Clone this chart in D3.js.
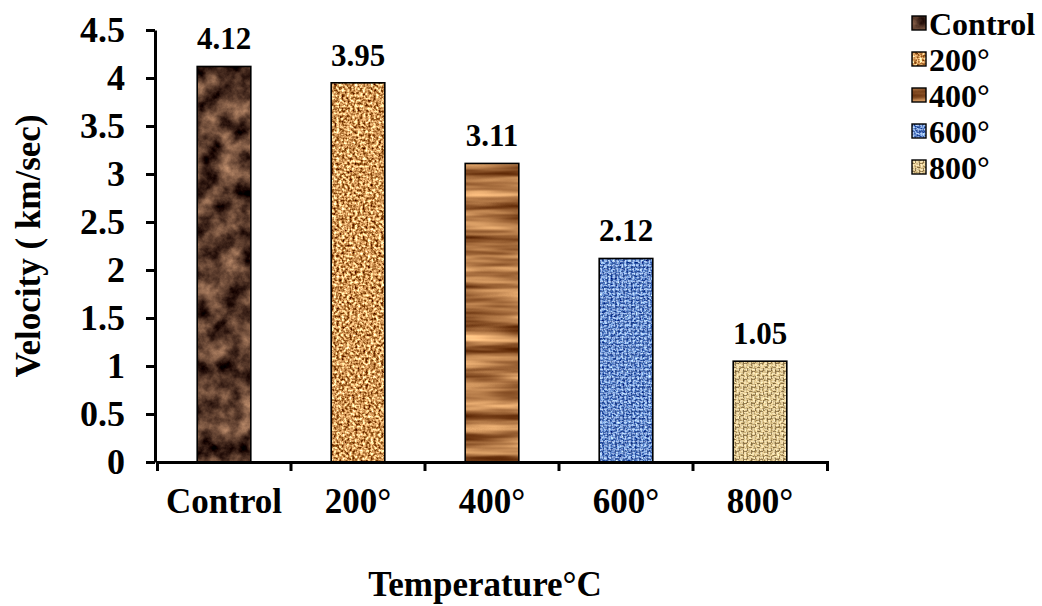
<!DOCTYPE html>
<html>
<head>
<meta charset="utf-8">
<script src="https://cdn.jsdelivr.net/npm/d3@7"></script>
<style>
  html, body { margin: 0; padding: 0; background: #fff; }
  svg { display: block; }
  text { font-family: "Liberation Serif", "Times New Roman", serif; font-weight: bold; fill: #000; }
</style>
</head>
<body>
<svg id="chart" width="1042" height="606"></svg>
<script>
// Ultrasonic pulse velocity after heating
const categories = ["Control", "200°", "400°", "600°", "800°"];
const velocities = [4.12, 3.95, 3.11, 2.12, 1.05];
const yTickValues = [0, 0.5, 1, 1.5, 2, 2.5, 3, 3.5, 4, 4.5];
const yTitle = "Velocity ( km/sec)";
const xTitle = "Temperature°C";

const svg = d3.select("#chart");

// Texture definitions, one per category (noise + optional weave overlay)
const textures = [
  { type: "fractalNoise", freq: "0.05", oct: 5, seed: 7,
    m: [[1.1, -0.2], [0.9, -0.22], [0.7, -0.18]] },                 // dark marble
  { type: "fractalNoise", freq: "0.38", oct: 2, seed: 3,
    m: [[1.7, -0.02], [1.8, -0.3], [1.7, -0.5]] },                  // tan granite
  { type: "fractalNoise", freq: "0.008 0.09", oct: 3, seed: 11,
    m: [[1.1, 0.12], [1.05, -0.08], [0.85, -0.17]] },               // wood grain
  { type: "fractalNoise", freq: "0.45", oct: 2, seed: 5,
    m: [[1.4, -0.33], [1.4, -0.17], [1.0, 0.3]],
    weave: { light: "#d6e2ff", dark: "#1d3a80" } },                 // blue weave
  { type: "fractalNoise", freq: "0.45", oct: 2, seed: 9,
    m: [[0.8, 0.46], [0.8, 0.36], [0.8, 0.14]],
    weave: { light: "#fff4d0", dark: "#5e4420" } }                  // burlap weave
];

const defs = svg.append("defs");
textures.forEach((t, i) => {
  const f = defs.append("filter").attr("id", "tex" + i)
    .attr("x", 0).attr("y", 0).attr("width", 1).attr("height", 1)
    .attr("color-interpolation-filters", "sRGB");
  f.append("feTurbulence").attr("type", t.type).attr("baseFrequency", t.freq)
    .attr("numOctaves", t.oct).attr("seed", t.seed).attr("result", "n");
  const vals = t.m.map(r => `${r[0]} 0 0 0 ${r[1]}`).join(" ") + " 0 0 0 0 1";
  f.append("feColorMatrix").attr("in", "n").attr("type", "matrix")
    .attr("values", vals).attr("result", "c");
  f.append("feComposite").attr("in", "c").attr("in2", "SourceGraphic").attr("operator", "in");

  if (t.weave) {
    const p = defs.append("pattern").attr("id", "weave" + i)
      .attr("patternUnits", "userSpaceOnUse").attr("width", 8).attr("height", 8);
    p.append("path").attr("d", "M0,1.5h5 M4,5.5h4 M1.5,3v5 M6,0v4")
      .attr("stroke", t.weave.light).attr("stroke-width", 1.2).attr("opacity", 0.6).attr("fill", "none");
    p.append("path").attr("d", "M0,3.5h3 M5,7.5h3 M3.5,0v3 M7.5,2v4")
      .attr("stroke", t.weave.dark).attr("stroke-width", 1).attr("opacity", 0.6).attr("fill", "none");
  }
});

// Scales
const x = d3.scaleBand().domain(categories).range([157, 827])
  .paddingInner(0.6).paddingOuter(0.3);
const y = d3.scaleLinear().domain([0, 4.5]).range([462, 30]);

// Draw a textured rectangle with a black outline
function texturedRect(g, i, rx, ry, rw, rh, sw) {
  g.append("rect").attr("x", rx).attr("y", ry).attr("width", rw).attr("height", rh)
    .attr("fill", "#fff").attr("filter", `url(#tex${i})`);
  if (textures[i].weave) {
    g.append("rect").attr("x", rx).attr("y", ry).attr("width", rw).attr("height", rh)
      .attr("fill", `url(#weave${i})`);
  }
  g.append("rect").attr("x", rx).attr("y", ry).attr("width", rw).attr("height", rh)
    .attr("fill", "none").attr("stroke", "#000").attr("stroke-width", sw);
}

// Bars
const bars = svg.append("g");
categories.forEach((c, i) => {
  const g = bars.append("g");
  texturedRect(g, i, x(c), y(velocities[i]), x.bandwidth(), y(0) - y(velocities[i]), 1.6);
});

// Value labels
svg.append("g").selectAll("text").data(categories).join("text")
  .attr("x", d => x(d) + x.bandwidth() / 2)
  .attr("y", (d, i) => y(velocities[i]) - 17)
  .attr("text-anchor", "middle")
  .style("font-size", "31px")
  .text((d, i) => velocities[i].toFixed(2));

// Y axis
const yAxis = svg.append("g").attr("transform", "translate(155,0)")
  .call(d3.axisLeft(y).tickValues(yTickValues).tickFormat(d => String(d))
    .tickSize(9).tickSizeOuter(0).tickPadding(21));
yAxis.selectAll("path, line").attr("stroke", "#000").attr("stroke-width", 3);
yAxis.selectAll("text").style("font-size", "36px")
  .style("font-family", "\"Liberation Serif\", \"Times New Roman\", serif").style("font-weight", "bold");

// X axis: labels at band centres, tick marks at band boundaries
const xAxis = svg.append("g").attr("transform", "translate(0,462)")
  .call(d3.axisBottom(x).tickSize(0).tickSizeOuter(9).tickPadding(26));
xAxis.select("path.domain").attr("stroke", "#000").attr("stroke-width", 3);
xAxis.selectAll("text").style("font-size", "35px")
  .style("font-family", "\"Liberation Serif\", \"Times New Roman\", serif").style("font-weight", "bold");
xAxis.selectAll("line.bound").data(d3.range(1, categories.length)).join("line")
  .attr("class", "bound")
  .attr("x1", i => x.range()[0] + i * x.step()).attr("x2", i => x.range()[0] + i * x.step())
  .attr("y1", 0).attr("y2", 9).attr("stroke", "#000").attr("stroke-width", 3);

// Axis titles
svg.append("text").attr("x", 485).attr("y", 596).attr("text-anchor", "middle")
  .style("font-size", "35px").text(xTitle);
svg.append("text").attr("transform", "translate(40,246) rotate(-90)")
  .attr("text-anchor", "middle").style("font-size", "35px").text(yTitle);

// Legend
const legend = svg.append("g").attr("transform", "translate(912,0)");
categories.forEach((c, i) => {
  const ly = 35 + i * 36;
  const g = legend.append("g");
  texturedRect(g, i, 0, ly - 19, 14, 14, 1.4);
  g.append("text").attr("x", 17).attr("y", ly).style("font-size", "32px").text(c);
});
</script>
</body>
</html>
